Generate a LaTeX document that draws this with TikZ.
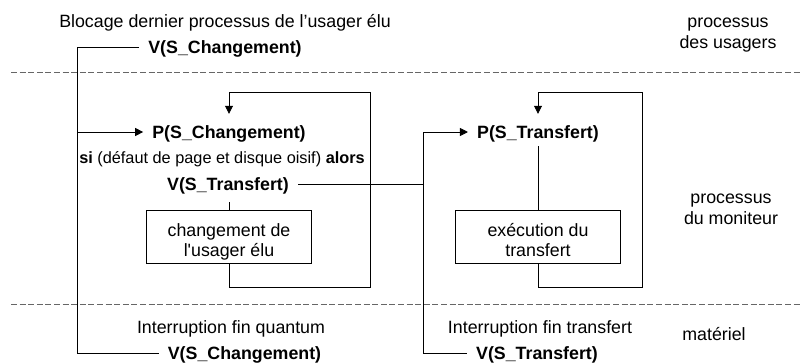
\documentclass[tikz,border=0pt]{standalone}
\usepackage{fontspec}
\setmainfont{Liberation Sans}
\usetikzlibrary{arrows.meta}
\begin{document}
\begin{tikzpicture}[x=1pt,y=-1pt,
  every node/.style={font=\fontsize{17.8}{19.5}\selectfont, inner sep=0pt},
  sem/.style={font=\fontsize{17.8}{19.5}\selectfont\bfseries, inner xsep=9pt, inner ysep=10pt, text height=14pt, text depth=2pt},
  plain/.style={anchor=base},
  stepbox/.style={draw, line width=0.8pt, minimum width=165pt, minimum height=53pt, text height=12pt, text depth=13pt, inner sep=0pt},
  conn/.style={line width=0.8pt},
  arr/.style={conn, -{Triangle[length=8pt,width=8pt]}},
  sepline/.style={draw=black!60, line width=0.8pt, dash pattern=on 6pt off 2.6pt}]
\useasboundingbox (0,0) rectangle (802,362);

% separators
\draw[sepline] (11,72) -- (802,72);
\draw[sepline] (11,304) -- (802,304);

% left column
\node[plain] (blocage) at (225,27) {Blocage dernier processus de l’usager élu};
\node[sem] (vchgtop) at (225,47) {V(S\_Changement)};
\node[sem] (pchg) at (229,132) {P(S\_Changement)};
\node[plain, font=\fontsize{16.3}{18}\selectfont] (si) at (222,163) {\textbf{si} (défaut de page et disque oisif) \textbf{alors}};
\node[sem] (vtr) at (228,184) {V(S\_Transfert)};
\node[stepbox] (chg) at (229,237) {\begin{tabular}[t]{@{}c@{}}changement de\\l\textquotesingle usager élu\end{tabular}};
\node[plain] (intq) at (231,333) {Interruption fin quantum};
\node[sem] (vchgbot) at (244.5,353) {V(S\_Changement)};

% right column
\node[sem] (ptr) at (538,132) {P(S\_Transfert)};
\node[stepbox] (exec) at (538,237) {\begin{tabular}[t]{@{}c@{}}exécution du\\transfert\end{tabular}};
\node[plain] (intt) at (540,333) {Interruption fin transfert};
\node[sem] (vtrbot) at (537,353) {V(S\_Transfert)};

% level labels
\node[plain] (lvlusr) at (728,27) {\renewcommand\arraystretch{1.08}\begin{tabular}[t]{@{}c@{}}processus\\des usagers\end{tabular}};
\node[plain] (lvlmon) at (731,203) {\renewcommand\arraystretch{1.08}\begin{tabular}[t]{@{}c@{}}processus\\du moniteur\end{tabular}};
\node[plain] (lvlmat) at (714,340) {matériel};

% coordinates
\coordinate (L) at (77,132);
\coordinate (loopa) at (370,287);
\coordinate (loopat) at (370,92);
\coordinate (M) at (423,184);
\coordinate (loopb) at (642,287);
\coordinate (loopbt) at (642,92);

% connectors left
\draw[conn] (vchgtop.west) -| (L);
\draw[arr] (L) -- (pchg.west);
\draw[conn] (L) |- (vchgbot.west);
\draw[conn] (chg.north |- vtr.south) -- (chg.north);
\draw[arr] (chg.south) |- (loopa) -- (loopat) -| (pchg.north);

% transfer
\draw[conn] (vtr.east) -- (M);
\draw[arr] (M) |- (ptr.west);
\draw[conn] (M) |- (vtrbot.west);

% connectors right
\draw[conn, shorten <=-4pt] (ptr.south) -- (exec.north);
\draw[arr] (exec.south) |- (loopb) -- (loopbt) -| (ptr.north);
\end{tikzpicture}
\end{document}
